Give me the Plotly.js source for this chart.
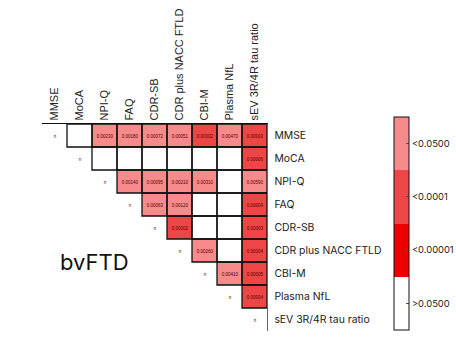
<!DOCTYPE html>
<html>
<head>
<meta charset="utf-8">
<script src="https://cdn.plot.ly/plotly-3.0.1.min.js"></script>
<style>html,body{margin:0;padding:0;background:#fff;}#chart{width:456px;height:355px;}</style>
</head>
<body>
<div id="chart"></div>
<script>
// Variables (rows top->bottom, columns left->right)
var labels = ["MMSE","MoCA","NPI-Q","FAQ","CDR-SB","CDR plus NACC FTLD","CBI-M","Plasma NfL","sEV 3R/4R tau ratio"];

// significance class per cell: "d" = diagonal, "ns" = >0.05, "p05" = <0.05, "p0001" = <0.0001, "p00001" = <0.00001, null = lower triangle
var significance = [
  ["d","ns","p05","p05","p05","p05","p0001","p05","p0001"],
  [null,"d","ns","ns","ns","ns","ns","ns","p0001"],
  [null,null,"d","p05","p05","p05","p05","ns","p05"],
  [null,null,null,"d","p05","p05","ns","ns","p0001"],
  [null,null,null,null,"d","p0001","ns","ns","p0001"],
  [null,null,null,null,null,"d","p05","ns","p0001"],
  [null,null,null,null,null,null,"d","p05","p0001"],
  [null,null,null,null,null,null,null,"d","p0001"],
  [null,null,null,null,null,null,null,null,"d"]
];

// p-values printed in the cells (estimated; too small to read)
var pvalues = [
  ["n","","0.00230","0.00180","0.00072","0.00051","0.00002","0.00470","0.00003"],
  ["","n","","","","","","","0.00006"],
  ["","","n","0.00140","0.00095","0.00210","0.00310","","0.00590"],
  ["","","","n","0.00063","0.00120","","","0.00004"],
  ["","","","","n","0.00002","","","0.00003"],
  ["","","","","","n","0.00260","","0.00004"],
  ["","","","","","","n","0.00410","0.00005"],
  ["","","","","","","","n","0.00004"],
  ["","","","","","","","","n"]
];

var classCode = {"d":0,"ns":0,"p00001":1,"p0001":2,"p05":3};
var colorbarTickText = [">0.0500","<0.00001","<0.0001","<0.0500"];
var classColors = ["#ffffff","#ee0000","#ee4646","#f78a8a"];

var n = labels.length;
var idx = labels.map(function(_, i){ return i; });
var z = significance.map(function(row){
  return row.map(function(c){ return c === null ? null : classCode[c]; });
});

// stepwise colorscale
var cs = [];
for (var k = 0; k < 4; k++) {
  cs.push([k/4, classColors[k]]);
  cs.push([(k+1)/4, classColors[k]]);
}

var trace = {
  type: "heatmap",
  x: idx, y: idx, z: z,
  text: pvalues,
  texttemplate: "%{text}",
  textfont: {size: 4.5, color: "#5a0000", family: "Liberation Sans"},
  colorscale: cs,
  zmin: -0.5, zmax: 3.5,
  hoverongaps: false,
  colorbar: {
    tickvals: [0,1,2,3],
    ticktext: colorbarTickText,
    ticks: "inside",
    ticklen: 3,
    tickcolor: "#555",
    ticklabelstandoff: 0,
    tickfont: {family: "Inter, Liberation Sans", size: 9.4, color: "#222"},
    thickness: 15,
    lenmode: "pixels",
    len: 213,
    x: 1.565, xanchor: "left", xpad: 0,
    y: 0.519, yanchor: "middle", ypad: 0,
    outlinewidth: 1, outlinecolor: "#111"
  }
};

// cell borders for upper triangle cells
var shapes = [];
for (var i = 0; i < n; i++) {
  for (var j = i+1; j < n; j++) {
    shapes.push({type: "rect", xref: "x", yref: "y",
      x0: j-0.5, x1: j+0.5, y0: i-0.5, y1: i+0.5,
      line: {color: "#111", width: 1.3}, fillcolor: "rgba(0,0,0,0)"});
  }
}

var layout = {
  width: 456, height: 355,
  margin: {l: 42, r: 189, t: 124, b: 24, autoexpand: false},
  paper_bgcolor: "#fff", plot_bgcolor: "#fff",
  showlegend: false,
  xaxis: {
    side: "top", range: [-0.5, n-0.5], tickvals: idx, ticktext: labels,
    tickangle: -90, showgrid: false, zeroline: false,
    showline: true, linecolor: "#111", linewidth: 1.3,
    ticks: "", tickfont: {family: "Liberation Sans", size: 11, color: "#222"},
    fixedrange: true
  },
  yaxis: {
    side: "right", range: [n-0.5, -0.5], tickvals: idx, ticktext: labels,
    showgrid: false, zeroline: false,
    showline: true, linecolor: "#666", linewidth: 1.3,
    ticks: "", ticklabelstandoff: 4,
    tickfont: {family: "Inter, Liberation Sans", size: 10.4, color: "#222"},
    fixedrange: true
  },
  shapes: shapes,
  annotations: [{
    text: "bvFTD", xref: "paper", yref: "paper",
    x: 0.071, y: 0.333, xanchor: "left", yanchor: "middle",
    showarrow: false, font: {family: "Inter, Liberation Sans", size: 22, color: "#111"}
  }]
};

Plotly.newPlot("chart", [trace], layout, {displayModeBar: false, staticPlot: true});
</script>
</body>
</html>
